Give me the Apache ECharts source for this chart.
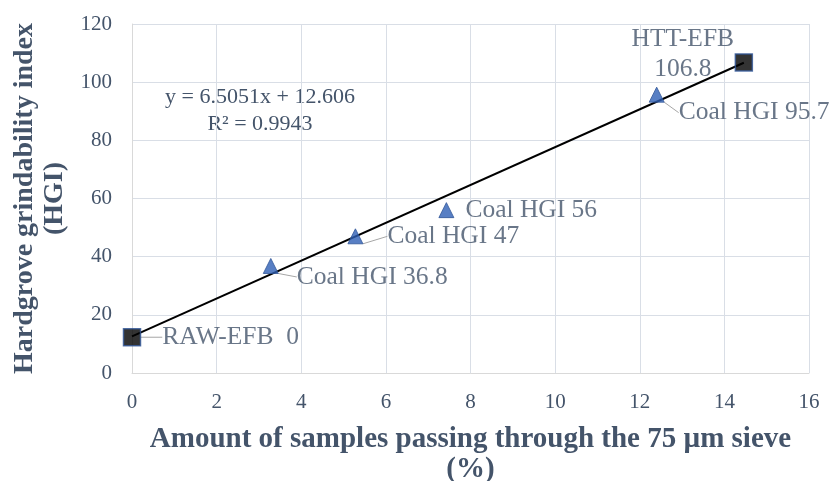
<!DOCTYPE html>
<html><head><meta charset="utf-8">
<script src="https://cdn.jsdelivr.net/npm/echarts@6/dist/echarts.min.js"></script>
<style>html,body{margin:0;padding:0;background:#fff}#c{width:830px;height:481px}</style>
</head><body><div id="c"></div>
<script>
const xTicks = [0, 2, 4, 6, 8, 10, 12, 14, 16];
const yTicks = [0, 20, 40, 60, 80, 100, 120];
const coalX = [3.28, 5.28, 7.43, 12.4];
const coalY = [36.8, 47, 56, 95.7];
const coalLabels = ['Coal HGI 36.8', 'Coal HGI 47', 'Coal HGI 56', 'Coal HGI 95.7'];
const efbX = [0, 14.46];
const efbY = [12.3, 106.8];
const efbLabels = ['RAW-EFB  0', 'HTT-EFB\n106.8'];
const trendX = [0, 14.46];
const trendY = [12.606, 106.67];
const equationText = 'y = 6.5051x + 12.606\nR² = 0.9943';
const xTitle = 'Amount of samples passing through the 75 µm sieve\n(%)';
const yTitle = 'Hardgrove grindability index\n(HGI)';

const FONT = "'Liberation Serif', 'Times New Roman', serif";
const TXT = '#44546A';
const coalOffsets = [[13, 11], [19, 0], [6, 0], [9, 18]];
const coalLine = [true, true, false, true];
const efbLine = [true, false];

const chart = echarts.init(document.getElementById('c'), null, {renderer: 'canvas'});
chart.setOption({
  animation: false,
  grid: {left: 132, right: 21, top: 24, bottom: 108, outerBoundsMode: 'none', containLabel: false},
  xAxis: {
    type: 'value', min: xTicks[0], max: xTicks[xTicks.length - 1], interval: 2,
    name: xTitle, nameLocation: 'middle', nameGap: 52,
    nameTextStyle: {fontFamily: FONT, fontWeight: 'bold', fontSize: 29, color: TXT, lineHeight: 30},
    axisLine: {show: true, lineStyle: {color: '#D9D9D9', width: 1}},
    axisTick: {show: false},
    splitLine: {show: true, lineStyle: {color: '#D9DEE6', width: 1}},
    axisLabel: {fontFamily: FONT, fontSize: 21, color: TXT, margin: 19}
  },
  yAxis: {
    type: 'value', min: yTicks[0], max: yTicks[yTicks.length - 1], interval: 20,
    name: yTitle, nameLocation: 'middle', nameGap: 58, nameRotate: 90,
    nameTextStyle: {fontFamily: FONT, fontWeight: 'bold', fontSize: 28, color: TXT, lineHeight: 30},
    axisLine: {show: true, lineStyle: {color: '#D9D9D9', width: 1}},
    axisTick: {show: false},
    splitLine: {show: true, lineStyle: {color: '#D9DEE6', width: 1}},
    axisLabel: {fontFamily: FONT, fontSize: 21, color: TXT, margin: 20}
  },
  graphic: [{
    type: 'text', x: 260, y: 111,
    style: {text: equationText, font: '22px ' + FONT, fill: TXT, align: 'center', verticalAlign: 'middle', lineHeight: 27}
  }],
  series: [
    {
      type: 'line', data: trendX.map((x, i) => [x, trendY[i]]),
      symbol: 'none', lineStyle: {color: '#000', width: 2}, z: 3, silent: true
    },
    {
      type: 'scatter', symbol: 'triangle', symbolSize: 15,
      data: coalX.map((x, i) => ({value: [x, coalY[i]], name: coalLabels[i], labelLine: {show: coalLine[i]}})),
      itemStyle: {color: '#2E5FB5', borderColor: '#2F5597', borderWidth: 1},
      label: {show: true, position: 'right', distance: 5, formatter: p => p.name,
        fontFamily: FONT, fontSize: 25.5, color: TXT},
      labelLine: {show: true, lineStyle: {color: '#A6A6A6', width: 1}},
      labelLayout: p => ({dx: coalOffsets[p.dataIndex][0], dy: coalOffsets[p.dataIndex][1]}),
      z: 4
    },
    {
      type: 'scatter', symbol: 'rect', symbolSize: 17,
      data: efbX.map((x, i) => ({value: [x, efbY[i]], name: efbLabels[i], labelLine: {show: efbLine[i]}})),
      itemStyle: {color: '#000', borderColor: '#2F5597', borderWidth: 1.5},
      label: {show: true, position: 'right', distance: 5, formatter: p => p.name,
        fontFamily: FONT, fontSize: 25.5, color: TXT, lineHeight: 30},
      labelLine: {show: true, lineStyle: {color: '#A6A6A6', width: 1}},
      labelLayout: p => p.dataIndex === 1
        ? {x: p.rect.x - 61 + p.rect.width / 2, y: p.rect.y + 1, align: 'center', verticalAlign: 'middle'}
        : {dx: 16, dy: 0},
      z: 5
    }
  ]
});
</script></body></html>
